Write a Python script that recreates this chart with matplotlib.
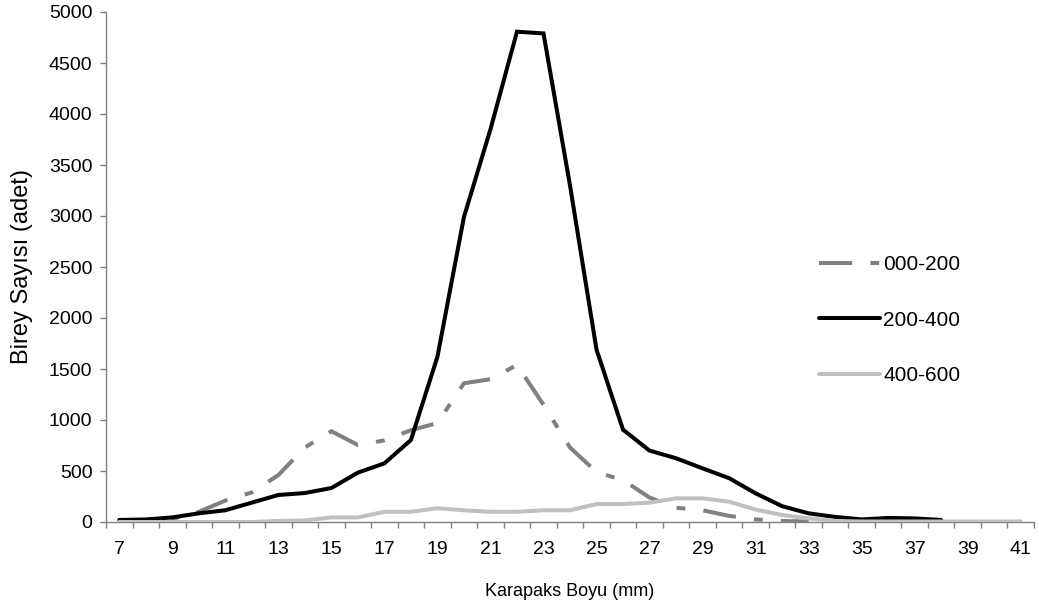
import matplotlib
matplotlib.use("Agg")
import matplotlib.pyplot as plt

# ---- data ----
lengths = list(range(7, 42))
x_labels = [str(v) for v in range(7, 42, 2)]
y_ticks = list(range(0, 5001, 500))

x_000_200 = list(range(7, 34))
v_000_200 = [10, 15, 30, 100, 210, 290, 460, 730, 890, 755, 800, 900, 970,
             1360, 1400, 1540, 1150, 730, 490, 410, 240, 140, 115, 60, 25, 10, 5]

x_200_400 = list(range(7, 39))
v_200_400 = [20, 25, 45, 85, 115, 190, 265, 284, 333, 484, 575, 804, 1620,
             2990, 3850, 4807, 4790, 3300, 1690, 905, 700, 625, 526, 430, 281,
             155, 85, 50, 25, 40, 35, 20]

x_400_600 = list(range(7, 42))
v_400_600 = [0, 0, 0, 0, 0, 0, 10, 15, 45, 45, 100, 100, 135, 115, 100, 100,
             115, 115, 176, 176, 190, 232, 232, 199, 122, 69, 35, 10, 5, 5, 5,
             5, 5, 5, 5]

series_labels = ["000-200", "200-400", "400-600"]

plt.rcParams["font.family"] = ["Liberation Sans", "DejaVu Sans"]
fs_tick, fs_leg, fs_x, fs_y = 14, 15, 13, 17

W, H = 1039, 613
fig = plt.figure(figsize=(W / 100, H / 100), dpi=100)
ax = fig.add_axes([106 / W, 1 - 522 / H, (1034 - 106) / W, (522 - 12) / H])

lw = 2.9
ax.plot(x_000_200, v_000_200, color="#808080", lw=lw,
        linestyle=(0, (8.25, 4.5, 2.2, 4.5)), dash_capstyle="butt",
        label=series_labels[0], zorder=3)
ax.plot(x_200_400, v_200_400, color="#000000", lw=lw,
        solid_capstyle="round", solid_joinstyle="miter",
        label=series_labels[1], zorder=4)
ax.plot(x_400_600, v_400_600, color="#C0C0C0", lw=lw,
        solid_capstyle="round", label=series_labels[2], zorder=5)

ax.set_xlim(6.5, 41.5)
ax.set_ylim(0, 5000)

# tick marks at category boundaries, labels every 2nd category
ax.set_xticks([v + 0.5 for v in range(6, 42)])
ax.set_xticklabels([])
ax.set_xticks(list(range(7, 42, 2)), minor=True)
ax.set_xticklabels(x_labels, minor=True)
ax.tick_params(axis="x", which="major", length=4.3, width=1, color="#808080",
               direction="out")
ax.tick_params(axis="x", which="minor", length=0, pad=14, labelsize=fs_tick)
ax.set_yticks(y_ticks)
ax.set_yticklabels([str(v) for v in y_ticks])
ax.tick_params(axis="y", length=4.3, width=1, color="#808080", pad=5.5,
               labelsize=fs_tick)

for s in ["top", "right"]:
    ax.spines[s].set_visible(False)
for s in ["left", "bottom"]:
    ax.spines[s].set_color("#808080")
    ax.spines[s].set_linewidth(1)

ax.set_xlabel("Karapaks Boyu (mm)", fontsize=fs_x, labelpad=18)
ax.set_ylabel("Birey Say\u0131s\u0131 (adet)", fontsize=fs_y)
ax.yaxis.set_label_coords((33 - 106) / 928, 0.5)

leg = ax.legend(loc="center left", bbox_to_anchor=(819 / W, 1 - 320 / H),
                bbox_transform=fig.transFigure, frameon=False,
                fontsize=fs_leg, handlelength=2.93, handletextpad=0.15,
                labelspacing=1.76, borderpad=0, borderaxespad=0)

fig.savefig("out.png", dpi=100)
